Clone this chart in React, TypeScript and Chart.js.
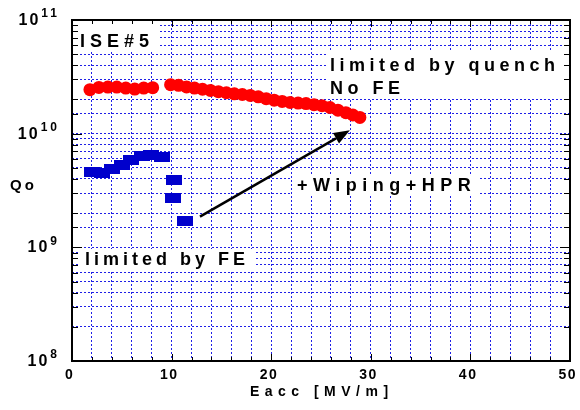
import React, { useEffect, useRef } from 'react';
import { Chart, registerables } from 'chart.js';

Chart.register(...registerables);

// Eacc [MV/m] and Qo after wiping + HPR (limited by quench, no FE)
const quenchE = [1.8, 2.7, 3.6, 4.5, 5.4, 6.3, 7.2, 8.1,
  9.9, 10.7, 11.5, 12.3, 13.1, 13.9, 14.7, 15.5, 16.3, 17.1, 17.9, 18.7, 19.5,
  20.3, 21.1, 21.9, 22.7, 23.5, 24.3, 25.1, 25.9, 26.7, 27.5, 28.2, 28.9];
const quenchQ = [2.44e10, 2.55e10, 2.57e10, 2.57e10, 2.52e10, 2.47e10, 2.52e10, 2.54e10,
  2.70e10, 2.66e10, 2.58e10, 2.52e10, 2.46e10, 2.40e10, 2.34e10, 2.29e10, 2.24e10, 2.21e10, 2.17e10, 2.11e10, 2.03e10,
  1.97e10, 1.92e10, 1.88e10, 1.86e10, 1.84e10, 1.80e10, 1.76e10, 1.70e10, 1.61e10, 1.53e10, 1.46e10, 1.39e10];

// Before: limited by field emission
const feE = [2.0, 3.0, 4.0, 5.0, 5.9, 7.0, 7.9, 9.0, 10.2, 10.1, 11.3];
const feQ = [4.6e9, 4.5e9, 4.9e9, 5.3e9, 5.9e9, 6.4e9, 6.5e9, 6.2e9, 3.9e9, 2.7e9, 1.72e9];

const xLabels = [0, 10, 20, 30, 40, 50];
const yExponents = [8, 9, 10, 11];
const arrowStart = { x: 12.85, y: 1.86e9 };
const arrowEnd = { x: 27.9, y: 1.07e10 };

const noteTexts = ['ISE#5', 'limited by quench', 'No FE', '+Wiping+HPR', 'limited by FE'];

const FONT = '"Liberation Sans", Arial, sans-serif';

function spaced(ctx: CanvasRenderingContext2D, text: string, x: number, y: number,
  font: string, spacing: number, align: 'left' | 'center' | 'right') {
  ctx.font = font;
  (ctx as any).letterSpacing = spacing + 'px';
  const w = ctx.measureText(text).width - spacing;
  const left = align === 'left' ? x : align === 'center' ? x - w / 2 : x - w;
  ctx.textAlign = 'left';
  ctx.textBaseline = 'middle';
  ctx.fillText(text, left, y);
  (ctx as any).letterSpacing = '0px';
  return w;
}

const notesLayout = [
  { dx: 8, y: 42, spacing: 5, box: [0, 0, 88, 30] },
  { dx: 258, y: 66, spacing: 4.5, box: [255, 32, 240, 47] },
  { dx: 258, y: 89, spacing: 4.5, box: null },
  { dx: 225, y: 186, spacing: 5.5, box: [220, 156, 186, 20] },
  { dx: 13, y: 260, spacing: 4, box: [8, 229, 176, 22] },
];

const overlay = {
  id: 'overlay',
  beforeDatasetsDraw(chart: any) {
    const { ctx, chartArea } = chart;
    ctx.save();
    ctx.fillStyle = '#ffffff';
    notesLayout.forEach((n) => {
      if (n.box) ctx.fillRect(chartArea.left + n.box[0], chartArea.top + n.box[1], n.box[2], n.box[3]);
    });
    ctx.fillStyle = '#000000';
    noteTexts.forEach((t, i) => {
      const n = notesLayout[i];
      spaced(ctx, t, chartArea.left + n.dx, n.y, 'bold 18px ' + FONT, n.spacing, 'left');
    });
    ctx.restore();
  },
  afterDraw(chart: any) {
    const { ctx, chartArea } = chart;
    const xs = chart.scales.x;
    const ys = chart.scales.y;
    const { left, right, top, bottom } = chartArea;
    ctx.save();
    // frame
    ctx.strokeStyle = '#000';
    ctx.lineWidth = 2;
    ctx.strokeRect(left, top, right - left, bottom - top);
    // x tick marks
    ctx.lineWidth = 1;
    xs.ticks.forEach((t: any) => {
      const px = Math.round(xs.getPixelForValue(t.value)) + 0.5;
      const len = t.value % 10 === 0 ? 7 : 4;
      ctx.beginPath();
      ctx.moveTo(px, bottom); ctx.lineTo(px, bottom - len);
      ctx.moveTo(px, top); ctx.lineTo(px, top + len);
      ctx.stroke();
    });
    // y tick marks
    ys.ticks.forEach((t: any) => {
      const py = Math.round(ys.getPixelForValue(t.value)) + 0.5;
      const lg = Math.log10(t.value);
      const major = Math.abs(lg - Math.round(lg)) < 1e-6;
      const len = major ? 10 : 6;
      ctx.beginPath();
      ctx.moveTo(left, py); ctx.lineTo(left + len, py);
      ctx.moveTo(right, py); ctx.lineTo(right - len, py);
      ctx.stroke();
    });
    ctx.fillStyle = '#000';
    // x labels
    xLabels.forEach((v) => {
      const px = xs.getPixelForValue(v);
      spaced(ctx, String(v), px - 3, bottom + 14.5, 'bold 14px ' + FONT, 1.5, 'center');
    });
    spaced(ctx, 'Eacc [MV/m]', (left + right) / 2 - 2, bottom + 31, 'bold 14px ' + FONT, 5.5, 'center');
    // y labels with superscripts
    yExponents.forEach((e) => {
      const py = ys.getPixelForValue(Math.pow(10, e));
      ctx.font = 'bold 12px ' + FONT;
      (ctx as any).letterSpacing = '3px';
      const sw = ctx.measureText(String(e)).width - 3;
      (ctx as any).letterSpacing = '0px';
      const supRight = left - 15;
      spaced(ctx, String(e), supRight - sw, py - 6, 'bold 12px ' + FONT, 3, 'left');
      spaced(ctx, '10', supRight - sw - 3, py + 0.5, 'bold 16px ' + FONT, 2, 'right');
    });
    spaced(ctx, 'Qo', 10, 186, 'bold 15px ' + FONT, 3, 'left');
    // arrow
    const x0 = xs.getPixelForValue(arrowStart.x), y0 = ys.getPixelForValue(arrowStart.y);
    const x1 = xs.getPixelForValue(arrowEnd.x), y1 = ys.getPixelForValue(arrowEnd.y);
    const ang = Math.atan2(y1 - y0, x1 - x0);
    const hl = 16, hw = 6;
    const bx = x1 - hl * Math.cos(ang), by = y1 - hl * Math.sin(ang);
    ctx.strokeStyle = '#000';
    ctx.lineWidth = 2.5;
    ctx.beginPath();
    ctx.moveTo(x0, y0); ctx.lineTo(bx, by);
    ctx.stroke();
    ctx.beginPath();
    ctx.moveTo(x1, y1);
    ctx.lineTo(bx + hw * Math.sin(ang), by - hw * Math.cos(ang));
    ctx.lineTo(bx - hw * Math.sin(ang), by + hw * Math.cos(ang));
    ctx.closePath();
    ctx.fill();
    ctx.restore();
  },
};

export default function App() {
  const ref = useRef<HTMLCanvasElement>(null);
  useEffect(() => {
    if (!ref.current) return;
    const rectMark = document.createElement('canvas');
    rectMark.width = 16;
    rectMark.height = 10;
    const rc = rectMark.getContext('2d')!;
    rc.fillStyle = '#0000cc';
    rc.fillRect(0, 0, 16, 10);

    const gridColor = '#1f1fe6';
    const chart = new Chart(ref.current, {
      type: 'scatter',
      data: {
        datasets: [
          {
            label: 'after',
            data: quenchE.map((x, i) => ({ x, y: quenchQ[i] })),
            backgroundColor: '#ff0000',
            borderWidth: 0,
            pointRadius: 6.5,
            pointStyle: 'circle',
          },
          {
            label: 'before',
            data: feE.map((x, i) => ({ x, y: feQ[i] })),
            backgroundColor: '#0000cc',
            borderWidth: 0,
            pointRadius: 8,
            pointStyle: rectMark as any,
          },
        ],
      },
      options: {
        responsive: false,
        animation: false,
        layout: { padding: { left: 72, top: 20, right: 10, bottom: 49 } },
        plugins: { legend: { display: false }, tooltip: { enabled: false } },
        scales: {
          x: {
            type: 'linear',
            min: 0,
            max: 50,
            ticks: { display: false, stepSize: 2 },
            grid: { color: gridColor, lineWidth: 1, drawTicks: false },
            border: { display: false, dash: [2, 2] },
          },
          y: {
            type: 'logarithmic',
            min: 1e8,
            max: 1e11,
            ticks: { display: false },
            grid: { color: gridColor, lineWidth: 1, drawTicks: false },
            border: { display: false, dash: [2, 2] },
          },
        },
      },
      plugins: [overlay],
    });
    return () => chart.destroy();
  }, []);
  return (
    <div style={{ position: 'fixed', left: 0, top: 0, width: 580, height: 410, background: '#fff' }}>
      <canvas ref={ref} width={580} height={410} style={{ display: 'block' }} />
    </div>
  );
}
